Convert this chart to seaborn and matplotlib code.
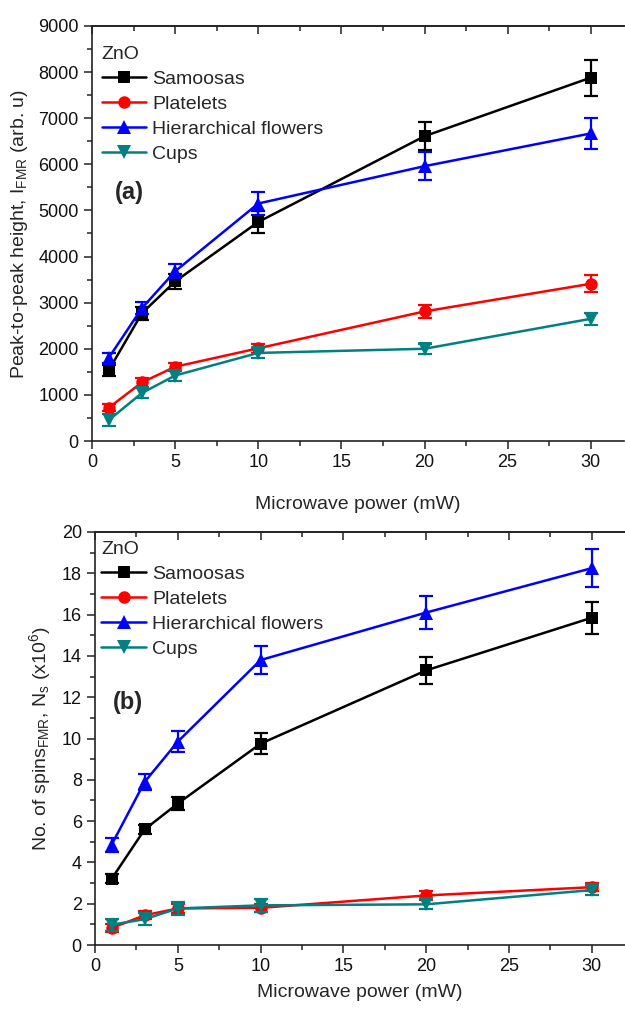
import pandas as pd
import matplotlib
matplotlib.use("Agg")
import matplotlib.pyplot as plt
import seaborn as sns
from matplotlib.ticker import MultipleLocator

# microwave power (mW)
power = [1, 3, 5, 10, 20, 30]
samples = ["Samoosas", "Platelets", "Hierarchical flowers", "Cups"]

# (a) peak-to-peak height I_FMR (arb. u)
ifmr_samoosas = [1530, 2770, 3460, 4750, 6610, 7880]
ifmr_platelets = [720, 1270, 1610, 2010, 2810, 3410]
ifmr_flowers = [1800, 2880, 3680, 5150, 5960, 6670]
ifmr_cups = [450, 1040, 1420, 1910, 2000, 2650]
ifmr_err_samoosas = [110, 140, 170, 240, 310, 390]
ifmr_err_platelets = [80, 90, 90, 100, 140, 180]
ifmr_err_flowers = [110, 130, 150, 240, 300, 340]
ifmr_err_cups = [130, 110, 110, 110, 110, 130]

# (b) number of spins N_s (x10^6)
ns_samoosas = [3.2, 5.6, 6.85, 9.75, 13.3, 15.85]
ns_platelets = [0.82, 1.44, 1.77, 1.8, 2.4, 2.8]
ns_flowers = [4.85, 7.9, 9.85, 13.8, 16.1, 18.25]
ns_cups = [0.98, 1.25, 1.77, 1.92, 1.97, 2.66]
ns_err_samoosas = [0.22, 0.22, 0.3, 0.5, 0.65, 0.78]
ns_err_platelets = [0.2, 0.2, 0.2, 0.2, 0.2, 0.2]
ns_err_flowers = [0.35, 0.38, 0.5, 0.68, 0.8, 0.92]
ns_err_cups = [0.3, 0.3, 0.3, 0.3, 0.25, 0.25]

colors = {"Samoosas": "#000000", "Platelets": "#ff0000",
          "Hierarchical flowers": "#0000ff", "Cups": "#008080"}
markers = {"Samoosas": "s", "Platelets": "o",
           "Hierarchical flowers": "^", "Cups": "v"}
msizes = {"Samoosas": 8.5, "Platelets": 9,
          "Hierarchical flowers": 10, "Cups": 10}

sns.set_style("ticks")
plt.rcParams["font.family"] = ["Liberation Sans", "DejaVu Sans"]
plt.rcParams["mathtext.fontset"] = "custom"
plt.rcParams["mathtext.rm"] = "Liberation Sans"
plt.rcParams["mathtext.it"] = "Liberation Sans:italic"


def make_df(vals, errs):
    rows = []
    for s, v, e in zip(samples, vals, errs):
        for p, y, err in zip(power, v, e):
            rows.append({"power": p, "value": y, "err": err, "sample": s})
    return pd.DataFrame(rows)


df_a = make_df([ifmr_samoosas, ifmr_platelets, ifmr_flowers, ifmr_cups],
               [ifmr_err_samoosas, ifmr_err_platelets, ifmr_err_flowers, ifmr_err_cups])
df_b = make_df([ns_samoosas, ns_platelets, ns_flowers, ns_cups],
               [ns_err_samoosas, ns_err_platelets, ns_err_flowers, ns_err_cups])

fig = plt.figure(figsize=(6.25, 10.10), dpi=100)
ax1 = fig.add_axes([92 / 625, 1 - 441 / 1010, 532 / 625, 415 / 1010])
ax2 = fig.add_axes([95 / 625, 1 - 945 / 1010, 530 / 625, 413 / 1010])


def draw(ax, df, ymax, ymaj, ymin, ylabel, tag, tag_pos, leg_pos, xpad):
    for s in samples:
        d = df[df["sample"] == s]
        sns.lineplot(data=d, x="power", y="value", color=colors[s],
                     marker=markers[s], markersize=msizes[s], markeredgewidth=0,
                     linewidth=1.8, label=s, ax=ax)
        ax.errorbar(d["power"], d["value"], yerr=d["err"], fmt="none",
                    ecolor=colors[s], elinewidth=1.6, capsize=5, capthick=1.6)
    ax.set_xlim(0, 32)
    ax.set_ylim(0, ymax)
    ax.xaxis.set_major_locator(MultipleLocator(5))
    ax.xaxis.set_minor_locator(MultipleLocator(2.5))
    ax.yaxis.set_major_locator(MultipleLocator(ymaj))
    ax.yaxis.set_minor_locator(MultipleLocator(ymin))
    ax.tick_params(which="both", direction="out", width=1.1, colors="#222222",
                   labelsize=13, labelcolor="#111111")
    ax.tick_params(which="major", length=6)
    ax.tick_params(which="minor", length=3.5)
    ax.spines["right"].set_visible(False)
    for sp in ["left", "bottom", "top"]:
        ax.spines[sp].set_linewidth(1.2)
        ax.spines[sp].set_color("#222222")
    top = ax.secondary_xaxis("top")
    top.xaxis.set_major_locator(MultipleLocator(5))
    top.xaxis.set_minor_locator(MultipleLocator(2.5))
    top.tick_params(which="both", direction="in", labeltop=False, width=1.1,
                    colors="#222222")
    top.tick_params(which="major", length=6)
    top.tick_params(which="minor", length=3.5)
    top.spines["top"].set_linewidth(1.2)
    ax.set_xlabel("Microwave power (mW)", fontsize=14, labelpad=xpad)
    ax.set_ylabel(ylabel, fontsize=14, labelpad=6)
    ax.text(tag_pos[0], tag_pos[1], tag, transform=ax.transAxes,
            fontsize=17, fontweight="bold", va="center", ha="left")
    h, l = ax.get_legend_handles_labels()
    ax.legend(h, l, title="ZnO", loc="upper left", bbox_to_anchor=leg_pos,
              frameon=False, fontsize=14, title_fontsize=14,
              alignment="left", handlelength=2.3, handletextpad=0.3,
              labelspacing=0.38, borderpad=0, borderaxespad=0)


draw(ax1, df_a, 9000, 1000, 500,
     r"Peak-to-peak height, I$_{\mathrm{FMR}}$ (arb. u)", "(a)",
     (0.043, 0.598), (0.018, 0.953), 18)
draw(ax2, df_b, 20, 2, 1,
     r"No. of spins$_{\mathrm{FMR}}$, N$_{\mathrm{s}}$ (x10$^{6}$)", "(b)",
     (0.034, 0.588), (0.012, 0.978), 6)

fig.savefig("out.png", dpi=100, facecolor="white")
